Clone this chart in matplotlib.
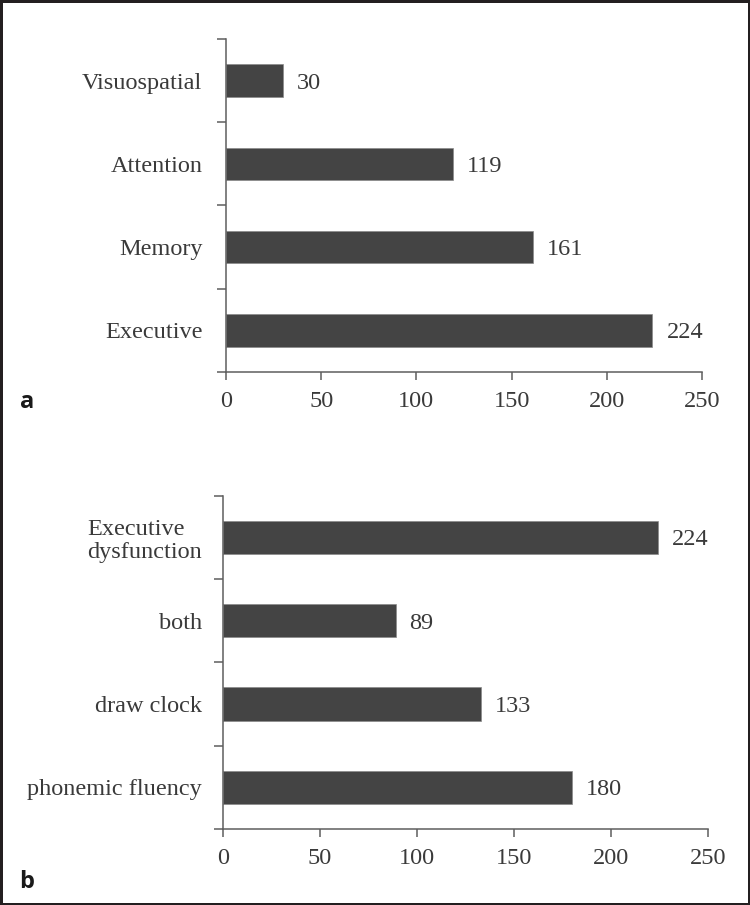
import matplotlib.pyplot as plt
from matplotlib.patches import Rectangle

# panel a
domains = ['Executive', 'Memory', 'Attention', 'Visuospatial']
domain_counts = [224, 161, 119, 30]

# panel b
tests = ['phonemic fluency', 'draw clock', 'both', 'Executive\ndysfunction']
test_counts = [180, 133, 89, 224]

x_ticks = [0, 50, 100, 150, 200, 250]

plt.rcParams['font.family'] = ['Liberation Serif', 'DejaVu Serif']
plt.rcParams['font.size'] = 17.5
txt_col = '#3a3a3a'
axis_col = '#5e5e5e'
bar_col = '#444444'

fig = plt.figure(figsize=(7.5, 9.05), dpi=100)
ax_a = fig.add_axes([226 / 750, 1 - 372 / 905, 476 / 750, 333 / 905])
ax_b = fig.add_axes([223 / 750, 1 - 829 / 905, 485 / 750, 333.3 / 905])


def draw(ax, cats, vals, h, ypad):
    pos = list(range(len(cats)))
    ax.barh(pos, vals, height=h, color=bar_col, edgecolor='#8a8a8a', linewidth=0.5)
    for p, v in zip(pos, vals):
        ax.annotate(str(v), (v, p), xytext=(10, 0), textcoords='offset points',
                    va='center_baseline', ha='left', color=txt_col)
    ax.set_xlim(0, 250)
    ax.set_ylim(-0.5, len(cats) - 0.5)
    ax.set_xticks(x_ticks)
    ax.set_yticks(pos)
    ax.set_yticklabels(cats, linespacing=1.15, multialignment='left')
    ax.set_yticks([p - 0.5 for p in range(len(cats) + 1)], minor=True)
    ax.tick_params(axis='y', which='major', length=0, pad=ypad, colors=txt_col)
    ax.tick_params(axis='y', which='minor', length=6.5, width=1.1, color=axis_col, direction='out')
    ax.tick_params(axis='x', length=5.8, width=1.1, color=axis_col, labelcolor=txt_col,
                   direction='out', pad=8)
    for s in ['top', 'right']:
        ax.spines[s].set_visible(False)
    for s in ['left', 'bottom']:
        ax.spines[s].set_color(axis_col)
        ax.spines[s].set_linewidth(1.1)


draw(ax_a, domains, domain_counts, 0.39, 17)
draw(ax_b, tests, test_counts, 0.4, 15)

fig.text(27 / 750, 1 - 408 / 905, 'a', fontfamily='Open Sans', fontweight='bold',
         fontsize=17, ha='center', va='baseline', color='#1a1a1a')
fig.text(27 / 750, 1 - 888 / 905, 'b', fontfamily='Open Sans', fontweight='bold',
         fontsize=17, ha='center', va='baseline', color='#1a1a1a')

fig.patches.append(Rectangle((0, 0), 1, 1, transform=fig.transFigure, fill=False,
                             linewidth=3.6, edgecolor='#231f20'))

fig.savefig('out.png', dpi=100)
